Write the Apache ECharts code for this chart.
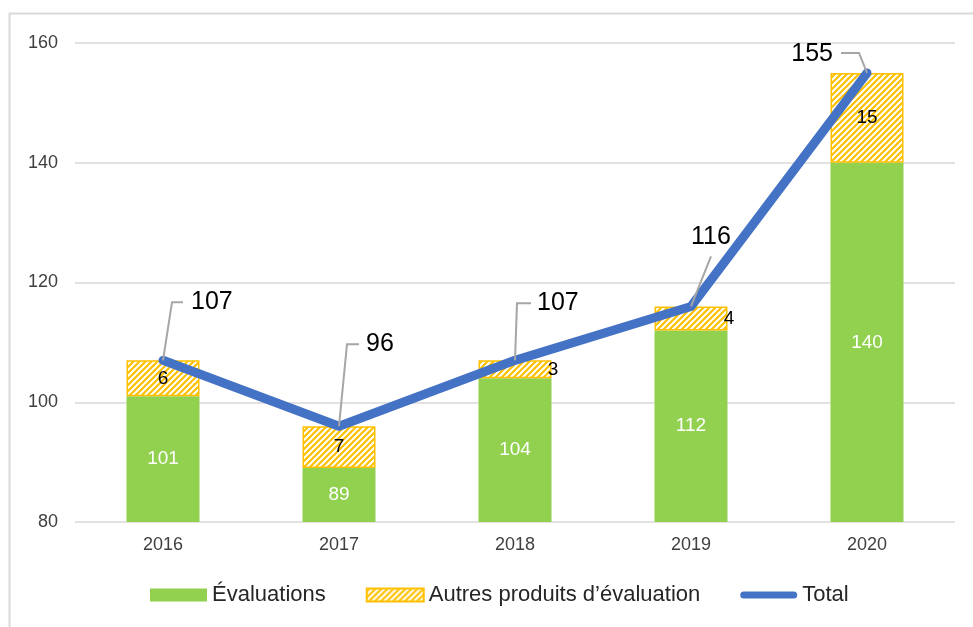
<!DOCTYPE html>
<html>
<head>
<meta charset="utf-8">
<script src="https://cdn.jsdelivr.net/npm/echarts@6/dist/echarts.min.js"></script>
<style>
html,body{margin:0;padding:0;background:#fff;}
#main{width:973px;height:627px;}
</style>
</head>
<body>
<div id="main"></div>
<script>
const categories = ['2016', '2017', '2018', '2019', '2020'];
const evaluations = [101, 89, 104, 112, 140];
const autres = [6, 7, 3, 4, 15];
const total = [107, 96, 107, 116, 155];
const yTicks = {min: 80, max: 160, interval: 20};

const seriesNames = ['Évaluations', 'Autres produits d’évaluation', 'Total'];

// hatch pattern
function makeHatch() {
  const c = document.createElement('canvas');
  const s = 6;
  c.width = s; c.height = s;
  const ctx = c.getContext('2d');
  ctx.fillStyle = '#FFC000';
  ctx.fillRect(0, 0, s, s);
  ctx.strokeStyle = '#ffffff';
  ctx.lineWidth = 2;
  ctx.beginPath();
  ctx.moveTo(-1, s + 1); ctx.lineTo(s + 1, -1);
  ctx.moveTo(-s / 2 - 1, s / 2 + 1); ctx.lineTo(s / 2 + 1, -s / 2 - 1);
  ctx.moveTo(s / 2 - 1, s * 1.5 + 1); ctx.lineTo(s * 1.5 + 1, s / 2 - 1);
  ctx.stroke();
  return c;
}
const hatch = makeHatch();

// leader-line / label layout for the total labels (pixel offsets from the point)
const leaderLayout = [
  {pts: [[9, -58], [20, -58]], text: [28, -58], align: 'left'},
  {pts: [[8, -82], [20, -82]], text: [27, -82], align: 'left'},
  {pts: [[2, -57], [16, -57]], text: [22, -57], align: 'left'},
  {pts: [[20, -50]], text: [20, -69], align: 'center'},
  {pts: [[-8, -20], [-26, -20]], text: [-34, -19], align: 'right'}
];
const autresLabelPos = ['inside', 'inside', 'right', 'right', 'inside'];
const FONT = 'Liberation Sans, Arial, sans-serif';

const chart = echarts.init(document.getElementById('main'), null, {renderer: 'canvas'});
chart.setOption({
  animation: false,
  backgroundColor: '#fff',
  textStyle: {fontFamily: FONT},
  graphic: [{
    type: 'rect', left: 7, top: 11, silent: true,
    shape: {width: 1000, height: 700},
    style: {fill: 'none', stroke: '#d9d9d9', lineWidth: 2}
  }],
  grid: {left: 75, right: 18, top: 43, bottom: 105},
  legend: {
    left: 145, top: 579,
    itemWidth: 57, itemHeight: 13, itemGap: 40,
    textStyle: {fontSize: 22, color: '#262626', fontFamily: FONT},
    data: [
      {name: seriesNames[0], icon: 'rect'},
      {name: seriesNames[1], icon: 'rect'},
      {name: seriesNames[2], icon: 'path://M3.5,0 L53.5,0 A3.5,3.5 0 0 1 53.5,7 L3.5,7 A3.5,3.5 0 0 1 3.5,0 Z'}
    ]
  },
  xAxis: {
    type: 'category', data: categories,
    axisLine: {show: false}, axisTick: {show: false},
    axisLabel: {fontSize: 18, color: '#404040', margin: 14}
  },
  yAxis: {
    type: 'value', min: yTicks.min, max: yTicks.max, interval: yTicks.interval,
    axisLine: {show: false}, axisTick: {show: false},
    axisLabel: {fontSize: 18, color: '#404040', margin: 17},
    splitLine: {lineStyle: {color: '#d9d9d9', width: 1.5}}
  },
  series: [
    {
      name: seriesNames[0], type: 'bar', stack: 's', barWidth: 73,
      data: evaluations,
      itemStyle: {color: '#92D050'},
      label: {show: true, position: 'inside', color: '#fff', fontSize: 19}
    },
    {
      name: seriesNames[1], type: 'bar', stack: 's', barWidth: 73,
      data: autres.map((v, i) => ({
        value: v,
        label: autresLabelPos[i] === 'right'
          ? {position: ['95%', '50%'], align: 'left', verticalAlign: 'middle'}
          : {position: 'inside'}
      })),
      itemStyle: {color: {image: hatch, repeat: 'repeat'}, borderColor: '#FFC000', borderWidth: 1.5},
      label: {show: true, color: '#000', fontSize: 19}
    },
    {
      name: seriesNames[2], type: 'line', data: total, z: 5,
      symbol: 'circle', symbolSize: 8, showSymbol: false,
      itemStyle: {color: '#4472C4'},
      lineStyle: {color: '#4472C4', width: 9, cap: 'round', join: 'round'}
    },
    {
      name: 'totalLabels', type: 'custom', z: 6, silent: true,
      data: total.map((v, i) => [i, v]),
      encode: {x: 0, y: 1},
      renderItem: function (params, api) {
        const i = params.dataIndex;
        const p = api.coord([api.value(0), api.value(1)]);
        const L = leaderLayout[i];
        const pts = [[p[0], p[1]]].concat(L.pts.map(o => [p[0] + o[0], p[1] + o[1]]));
        return {
          type: 'group',
          children: [
            {type: 'polyline', shape: {points: pts},
             style: {stroke: '#a6a6a6', lineWidth: 2, fill: null}},
            {type: 'text', x: p[0] + L.text[0], y: p[1] + L.text[1],
             style: {text: String(api.value(1)), fill: '#000', fontSize: 25,
                     fontFamily: FONT, align: L.align, verticalAlign: 'middle'}}
          ]
        };
      }
    }
  ]
});
</script>
</body>
</html>
